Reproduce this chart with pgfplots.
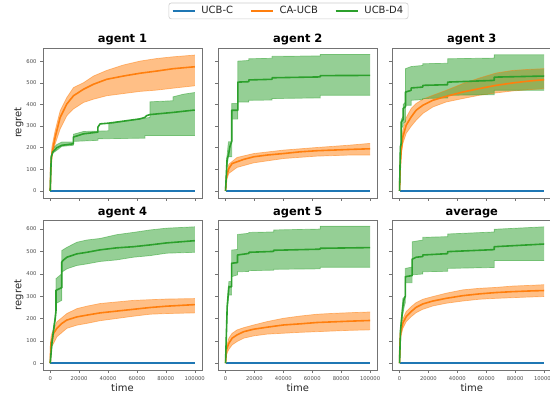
\documentclass[border=0pt]{standalone}
\usepackage{fontspec}
\setmainfont{DejaVu Sans}
\usepackage{pgfplots}
\pgfplotsset{compat=1.18}
\usepgfplotslibrary{fillbetween}
\definecolor{tabblue}{HTML}{1F77B4}
\definecolor{taborange}{HTML}{FF7F0E}
\definecolor{tabgreen}{HTML}{2CA02C}
\pgfplotsset{
  every axis title shift=0pt,
  panel/.style={
    scale only axis, width=159bp, height=150bp, anchor=south west,
    xmin=-5000, xmax=105000, scaled x ticks=false, scaled y ticks=false,
    xtick={0,20000,40000,60000,80000,100000},
    ytick={0,100,200,300,400,500,600},
    xticklabels={}, yticklabels={},
    tick align=outside, xtick pos=bottom, ytick pos=left,
    major tick length=3bp,
    axis line style={black!55, line width=0.5bp},
    every tick/.style={black!55, line width=0.5bp},
    tick label style={font=\fontsize{5.3}{6}\selectfont, text=black!70},
    title style={font=\fontsize{11.5}{13}\selectfont\bfseries, at={(axis description cs:0.5,1)}, anchor=base, yshift=5bp},
    xlabel style={font=\fontsize{10}{12}\selectfont, text=black!85, at={(axis description cs:0.5,-0.118)}, anchor=center},
    ylabel style={font=\fontsize{10}{12}\selectfont, text=black!85, at={(axis description cs:-0.151,0.5)}, anchor=center},
  },
  toprow/.style={ymin=-31.5, ymax=661.5},
  botrow/.style={ymin=-30.5, ymax=640.5,
    xticklabels={0,20000,40000,60000,80000,100000}, xlabel={time}},
  leftcol/.style={yticklabels={0,100,200,300,400,500,600}, ylabel={regret}},
  edge/.style={#1, draw opacity=0.5, line width=0.7bp, forget plot},
  band/.style={fill=#1, fill opacity=0.5, draw=none, forget plot},
  mean/.style={#1, line width=1.6bp, line join=round},
}
\begin{document}
\begin{tikzpicture}[x=1bp,y=1bp]

% ---------------- agent 1
\begin{axis}[panel, toprow, leftcol, at={(43bp,200.2bp)}, title={agent 1}]
\addplot[edge=taborange, name path=oU1] coordinates {(0,0) (400,125) (1150,203) (3450,280) (6900,371) (11500,432) (16100,478) (23000,500) (29900,531) (39100,557) (50600,582) (62100,600) (73600,612) (85100,620) (100000,628)};
\addplot[edge=taborange, name path=oL1] coordinates {(0,0) (400,100) (1150,157) (3450,218) (6900,287) (11500,348) (16100,379) (23000,409) (29900,424) (39100,440) (50600,450) (62100,460) (73600,466) (85100,475) (100000,486)};
\addplot[band=taborange] fill between[of=oU1 and oL1];
\addplot[edge=tabgreen, name path=gU1] coordinates {(0,0) (700,165) (1800,195) (4600,215) (8000,226) (16000,226) (16000,262) (23000,275) (40500,278) (40500,310) (62000,333) (69000,340) (69000,412) (85000,417) (85000,435) (92000,447) (100000,455)};
\addplot[edge=tabgreen, name path=gL1] coordinates {(0,0) (700,150) (1800,175) (4600,188) (8000,206) (16000,211) (16000,229) (33000,234) (33000,241) (65500,244) (65500,256) (100000,256)};
\addplot[band=tabgreen] fill between[of=gU1 and gL1];
\addplot[mean=tabblue] coordinates {(0,0) (100000,0)};
\addplot[mean=taborange] coordinates {(0,0) (400,110) (1150,172) (3450,249) (6900,340) (11500,402) (16100,440) (23000,470) (29900,493) (39100,516) (50600,531) (62100,544) (73600,554) (85100,565) (100000,574)};
\addplot[mean=tabgreen] coordinates {(0,0) (700,157) (1800,180) (4600,200) (8000,211) (16000,218) (16000,249) (23000,264) (33000,272) (33000,295) (34500,310) (40000,313) (62000,333) (65500,340) (66700,348) (69000,353) (85000,363) (100000,374)};
\end{axis}

% ---------------- agent 2
\begin{axis}[panel, toprow, at={(218.3bp,200.2bp)}, title={agent 2},
  legend columns=3,
  legend style={at={(axis description cs:0.4415,1.301)}, anchor=north,
    draw=black!20, line width=0.6bp, rounded corners=2.5bp,
    font=\fontsize{10}{12}\selectfont, text=black!85,
    inner xsep=3bp, inner ysep=1.5bp,
    nodes={inner sep=2bp},
    /tikz/every odd column/.append style={column sep=4bp},
    /tikz/every even column/.append style={column sep=15bp}},
  legend image code/.code={\draw[#1] (0bp,0bp) -- (22bp,0bp);}]
\addplot[edge=taborange, name path=oU2] coordinates {(0,0) (700,80) (2300,124) (8000,155) (19500,173) (40200,189) (63200,201) (86200,212) (100000,220)};
\addplot[edge=taborange, name path=oL2] coordinates {(0,0) (700,50) (2300,81) (8000,109) (19500,130) (40200,150) (63200,161) (86200,166) (100000,166)};
\addplot[band=taborange] fill between[of=oU2 and oL2];
\addplot[edge=tabgreen, name path=gU2] coordinates {(0,0) (1000,160) (2000,227) (4300,227) (4300,404) (8500,404) (8500,600) (16100,603) (16100,611) (32200,613) (32200,622) (65500,624) (65500,631) (100000,631)};
\addplot[edge=tabgreen, name path=gL2] coordinates {(0,0) (1000,110) (2000,158) (4300,158) (4300,332) (8500,332) (8500,411) (16100,411) (16100,419) (32200,420) (32200,427) (65500,430) (65500,442) (100000,442)};
\addplot[band=tabgreen] fill between[of=gU2 and gL2];
\addplot[mean=tabblue] coordinates {(0,0) (100000,0)};
\addlegendentry{UCB-C}
\addplot[mean=taborange] coordinates {(0,0) (700,66) (2300,104) (4600,127) (8000,135) (12600,146) (19500,158) (28700,166) (40200,173) (51700,181) (63200,186) (74700,189) (86200,192) (100000,195)};
\addlegendentry{CA-UCB}
\addplot[mean=tabgreen] coordinates {(0,0) (1100,150) (2000,165) (3000,204) (4300,230) (4300,373) (8500,373) (8500,503) (16100,505) (16100,513) (32200,516) (32200,523) (65500,527) (65500,533) (100000,534)};
\addlegendentry{UCB-D4}
\end{axis}

% ---------------- agent 3
\begin{axis}[panel, toprow, at={(392.3bp,200.2bp)}, title={agent 3}]
\addplot[edge=taborange, name path=oU3] coordinates {(0,0) (400,115) (1150,212) (2300,281) (4600,339) (8050,381) (11500,404) (16100,424) (23000,442) (32200,465) (43700,496) (55200,522) (66700,545) (78200,557) (89700,562) (100000,565)};
\addplot[edge=taborange, name path=oL3] coordinates {(0,0) (400,85) (1150,166) (2300,219) (4600,266) (8050,299) (11500,327) (16100,358) (23000,388) (32200,411) (43700,427) (55200,442) (66700,453) (78200,462) (89700,468) (100000,473)};
\addplot[band=taborange] fill between[of=oU3 and oL3];
\addplot[edge=tabgreen, name path=gU3] coordinates {(0,0) (600,215) (1200,230) (1200,330) (2500,345) (2500,400) (4100,410) (4100,565) (8050,575) (16100,580) (16100,588) (33300,590) (33300,611) (65500,614) (65500,629) (100000,629)};
\addplot[edge=tabgreen, name path=gL3] coordinates {(0,0) (600,189) (1200,200) (1200,289) (2500,300) (2500,312) (4100,320) (4100,396) (8050,396) (8050,419) (16100,422) (16100,427) (33300,430) (33300,442) (65500,445) (65500,465) (100000,465)};
\addplot[band=tabgreen] fill between[of=gU3 and gL3];
\addplot[mean=tabblue] coordinates {(0,0) (100000,0)};
\addplot[mean=taborange] coordinates {(0,0) (400,100) (1150,189) (2300,250) (4600,304) (8050,342) (11500,373) (16100,396) (23000,419) (32200,437) (43700,457) (55200,473) (66700,488) (78200,499) (89700,508) (100000,514)};
\addplot[mean=tabgreen] coordinates {(0,0) (600,204) (1200,220) (1200,319) (2500,330) (2500,381) (4100,390) (4100,457) (8050,465) (8050,476) (16100,480) (16100,488) (33300,491) (33300,503) (65500,511) (65500,526) (100000,531)};
\end{axis}

% ---------------- agent 4
\begin{axis}[panel, botrow, leftcol, at={(43bp,28bp)}, title={agent 4}]
\addplot[edge=taborange, name path=oU4] coordinates {(0,0) (460,115) (1150,133) (4600,185) (11500,222) (18400,244) (25300,255) (34500,267) (46000,274) (57500,281) (69000,284) (80500,287) (100000,289)};
\addplot[edge=taborange, name path=oL4] coordinates {(0,0) (460,60) (1150,74) (4600,118) (11500,156) (18400,170) (25300,178) (34500,190) (46000,200) (57500,210) (69000,219) (80500,222) (100000,225)};
\addplot[band=taborange] fill between[of=oU4 and oL4];
\addplot[edge=tabgreen, name path=gU4] coordinates {(0,0) (1150,95) (2300,160) (3450,215) (4000,250) (4000,378) (8000,400) (8000,504) (11500,518) (18400,541) (25300,551) (34500,558) (46000,575) (57500,585) (69000,596) (80500,604) (100000,610)};
\addplot[edge=tabgreen, name path=gL4] coordinates {(0,0) (1150,80) (2300,135) (3450,190) (4000,225) (4000,267) (8000,281) (8000,407) (11500,422) (18400,437) (25300,444) (34500,455) (46000,462) (57500,474) (69000,481) (80500,492) (100000,496)};
\addplot[band=tabgreen] fill between[of=gU4 and gL4];
\addplot[mean=tabblue] coordinates {(0,0) (100000,0)};
\addplot[mean=taborange] coordinates {(0,0) (460,90) (1150,104) (2300,133) (4600,156) (8050,178) (11500,193) (18400,207) (25300,215) (34500,225) (46000,233) (57500,241) (69000,249) (80500,255) (100000,262)};
\addplot[mean=tabgreen] coordinates {(0,0) (1150,89) (2300,148) (3450,200) (4000,237) (4000,326) (8000,338) (8000,452) (8700,459) (11500,474) (18400,489) (25300,496) (34500,507) (46000,516) (57500,521) (69000,529) (80500,538) (100000,548)};
\end{axis}

% ---------------- agent 5
\begin{axis}[panel, botrow, at={(218.3bp,28bp)}, title={agent 5}]
\addplot[edge=taborange, name path=oU5] coordinates {(0,0) (690,75) (2300,112) (4600,134) (8050,149) (12600,159) (19500,171) (28700,186) (40200,201) (51700,211) (63200,219) (74700,223) (86200,226) (100000,229)};
\addplot[edge=taborange, name path=oL5] coordinates {(0,0) (690,40) (2300,62) (4600,82) (8050,97) (12600,112) (19500,122) (28700,130) (40200,134) (51700,138) (63200,141) (74700,144) (86200,147) (100000,149)};
\addplot[band=taborange] fill between[of=oU5 and oL5];
\addplot[edge=tabgreen, name path=gU5] coordinates {(0,0) (1150,260) (2300,365) (4200,365) (4200,506) (8300,509) (8300,576) (16100,581) (16100,585) (33300,587) (33300,596) (65500,600) (65500,613) (100000,613)};
\addplot[edge=tabgreen, name path=gL5] coordinates {(0,0) (1150,240) (2300,305) (4200,305) (4200,387) (8300,395) (8300,409) (16100,410) (16100,414) (33300,416) (33300,420) (65500,422) (65500,429) (100000,429)};
\addplot[band=tabgreen] fill between[of=gU5 and gL5];
\addplot[mean=tabblue] coordinates {(0,0) (100000,0)};
\addplot[mean=taborange] coordinates {(0,0) (690,60) (2300,89) (4600,112) (8050,127) (12600,141) (19500,152) (28700,161) (40200,171) (51700,176) (63200,182) (74700,185) (86200,188) (100000,191)};
\addplot[mean=tabgreen] coordinates {(0,0) (1150,253) (2300,342) (4200,342) (4200,447) (8300,450) (8300,484) (16100,491) (16100,496) (33300,500) (33300,505) (65500,510) (65500,514) (100000,517)};
\end{axis}

% ---------------- average
\begin{axis}[panel, botrow, at={(392.3bp,28bp)}, title={average}]
\addplot[edge=taborange, name path=oU6] coordinates {(0,0) (250,95) (690,156) (2300,198) (4600,231) (8050,253) (11500,271) (16100,286) (23000,298) (32200,313) (43700,328) (55200,335) (66700,339) (78200,345) (89700,348) (100000,351)};
\addplot[edge=taborange, name path=oL6] coordinates {(0,0) (250,65) (690,112) (2300,156) (4600,186) (8050,208) (11500,226) (16100,241) (23000,256) (32200,268) (43700,278) (55200,286) (66700,290) (78200,293) (89700,296) (100000,298)};
\addplot[band=taborange] fill between[of=oU6 and oL6];
\addplot[edge=tabgreen, name path=gU6] coordinates {(0,0) (700,160) (1600,230) (2300,290) (4000,300) (4000,424) (8700,430) (8700,543) (16100,551) (16100,563) (33300,566) (33300,578) (65500,587) (65500,599) (100000,610)};
\addplot[edge=tabgreen, name path=gL6] coordinates {(0,0) (700,135) (1600,190) (2300,220) (3450,260) (4000,270) (4000,360) (8700,360) (8700,395) (16100,399) (16100,409) (33300,411) (33300,424) (65500,428) (65500,459) (100000,459)};
\addplot[band=tabgreen] fill between[of=gU6 and gL6];
\addplot[mean=tabblue] coordinates {(0,0) (100000,0)};
\addplot[mean=taborange] coordinates {(0,0) (250,80) (690,134) (2300,179) (4600,208) (8050,231) (11500,250) (16100,265) (23000,278) (32200,290) (43700,302) (55200,310) (66700,316) (78200,320) (89700,323) (100000,325)};
\addplot[mean=tabgreen] coordinates {(0,0) (700,149) (1600,208) (2300,253) (3000,283) (4000,300) (4000,387) (8700,392) (8700,465) (11500,474) (16100,477) (16100,484) (33300,490) (33300,499) (65500,508) (65500,521) (100000,533)};
\end{axis}
\pgfresetboundingbox
\useasboundingbox (0,0) rectangle (550,398);
\end{tikzpicture}
\end{document}
